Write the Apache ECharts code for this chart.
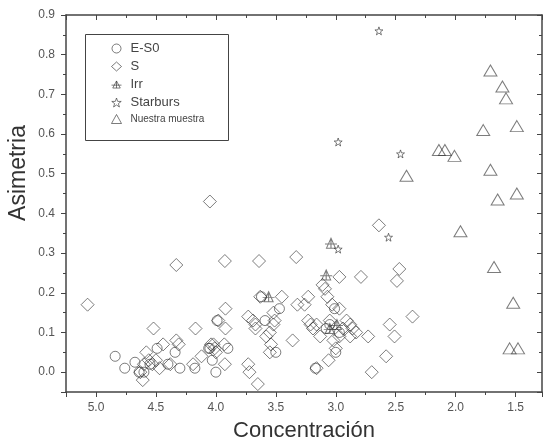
<!DOCTYPE html>
<html>
<head>
<meta charset="utf-8">
<script src="https://cdn.jsdelivr.net/npm/echarts@6/dist/echarts.min.js"></script>
<style>
  html, body { margin: 0; padding: 0; background: #fff; }
  #main { width: 546px; height: 441px; }
</style>
</head>
<body>
<div id="main"></div>
<script>
// concentracion, asimetria
var eS0 = [
    [4.84, 0.04], [4.76, 0.01], [4.64, 0.0], [4.675, 0.025], [4.55, 0.02], [4.6, 0.0],
    [4.49, 0.06], [4.40, 0.02], [4.34, 0.05], [4.30, 0.01], [4.175, 0.01], [4.06, 0.06],
    [4.0, 0.0], [3.99, 0.13], [4.03, 0.03], [4.05, 0.06], [3.9, 0.06], [3.59, 0.13],
    [3.62, 0.19], [3.50, 0.05], [3.47, 0.16], [3.17, 0.01], [3.0, 0.05], [3.05, 0.12],
    [3.01, 0.16], [2.97, 0.1], [3.08, 0.11]
];
var espirales = [
    [5.07, 0.17], [4.52, 0.11], [4.33, 0.27], [4.05, 0.43], [3.925, 0.28], [3.64, 0.28],
    [3.33, 0.29], [2.64, 0.37], [4.17, 0.11], [3.92, 0.16], [3.92, 0.11], [3.93, 0.07],
    [3.925, 0.02], [4.19, 0.02], [4.12, 0.04], [4.0, 0.05], [4.02, 0.07], [4.44, 0.07],
    [4.33, 0.08], [4.31, 0.07], [4.38, 0.02], [4.58, 0.05], [4.56, 0.03], [4.53, 0.02],
    [4.6, 0.02], [4.63, 0.0], [4.61, -0.02], [4.5, 0.03], [4.47, 0.01], [3.73, 0.02],
    [3.72, 0.0], [3.65, -0.03], [3.73, 0.14], [3.69, 0.13], [3.67, 0.12], [3.67, 0.11],
    [3.63, 0.19], [3.45, 0.19], [3.52, 0.15], [3.51, 0.13], [3.52, 0.12], [3.55, 0.1],
    [3.54, 0.07], [3.36, 0.08], [3.32, 0.17], [3.23, 0.19], [3.23, 0.13], [3.21, 0.12],
    [3.16, 0.12], [3.26, 0.17], [3.19, 0.11], [3.13, 0.09], [3.09, 0.21], [3.07, 0.19],
    [3.03, 0.17], [2.97, 0.16], [2.97, 0.24], [2.79, 0.24], [2.47, 0.26], [2.49, 0.23],
    [3.05, 0.13], [2.91, 0.13], [2.88, 0.12], [2.86, 0.11], [2.83, 0.10], [2.88, 0.09],
    [2.94, 0.11], [2.97, 0.09], [3.02, 0.08], [2.73, 0.09], [2.55, 0.12], [2.51, 0.09],
    [2.36, 0.14], [3.0, 0.06], [3.06, 0.03], [3.16, 0.01], [2.58, 0.04], [2.70, 0.0],
    [3.11, 0.22], [3.58, 0.09], [3.55, 0.05], [3.98, 0.13], [4.01, 0.06], [4.04, 0.07]
];
var irregulares = [[3.56, 0.19], [3.04, 0.325], [3.08, 0.245], [2.99, 0.12], [3.05, 0.11]];
var starburst = [[2.64, 0.86], [2.98, 0.58], [2.46, 0.55], [2.98, 0.31], [2.56, 0.34]];
var muestra = [
    [1.71, 0.76], [1.61, 0.72], [1.58, 0.69], [1.77, 0.61], [1.49, 0.62], [2.14, 0.56],
    [2.09, 0.56], [2.01, 0.545], [2.41, 0.495], [1.71, 0.51], [1.49, 0.45], [1.65, 0.435],
    [1.96, 0.355], [1.68, 0.265], [1.52, 0.175], [1.55, 0.06], [1.48, 0.06]
];
var nombres = ['E-S0', 'S', 'Irr', 'Starburs', 'Nuestra muestra'];

var starPath = 'path://M0,-10L2.35,-3.24L9.51,-3.09L3.8,1.24L5.88,8.09L0,4L-5.88,8.09L-3.8,1.24L-9.51,-3.09L-2.35,-3.24Z';
var irrPath = 'path://M0,-10L9,7L-9,7ZM-12,0L12,0M0,-10L0,7';

var hueco = { color: 'rgba(255,255,255,0)', borderColor: 'rgba(50,50,50,0.8)', borderWidth: 1 };
var gris = '#444';
var fuente = 'Liberation Sans, Arial';

var myChart = echarts.init(document.getElementById('main'));

function eje(extra) {
    var base = {
        type: 'value',
        axisLine: { show: true, onZero: false, lineStyle: { color: gris, width: 1.5 } },
        axisTick: { show: true, length: 5, lineStyle: { color: gris } },
        minorTick: { show: true, splitNumber: 2, length: 3, lineStyle: { color: gris } },
        splitLine: { show: false }
    };
    return Object.assign(base, extra);
}

myChart.setOption({
    animation: false,
    grid: { left: 66, right: 4, top: 15, bottom: 49, containLabel: false, outerBoundsMode: 'none' },
    xAxis: [
        eje({
            min: 1.28, max: 5.25, splitNumber: 8, inverse: true, position: 'bottom',
            name: 'Concentración', nameLocation: 'middle', nameGap: 28,
            nameTextStyle: { fontSize: 22, color: '#333', fontFamily: fuente },
            axisLabel: { color: '#555', fontSize: 12, fontFamily: fuente, margin: 10,
                showMinLabel: false, showMaxLabel: false,
                formatter: function (v) { return v.toFixed(1); } }
        }),
        eje({
            min: 1.28, max: 5.25, splitNumber: 8, inverse: true, position: 'top',
            axisTick: { show: true, inside: true, length: 5, lineStyle: { color: gris } },
            minorTick: { show: true, splitNumber: 2, length: 3, lineStyle: { color: gris } },
            axisLabel: { show: false }
        })
    ],
    yAxis: [
        eje({
            min: -0.05, max: 0.9, splitNumber: 10, position: 'left',
            axisLabel: { color: '#555', fontSize: 12, fontFamily: fuente, margin: 11,
                showMinLabel: false,
                formatter: function (v) { return v.toFixed(1); } }
        }),
        eje({
            min: -0.05, max: 0.9, splitNumber: 10, position: 'right',
            axisTick: { show: true, inside: true, length: 5, lineStyle: { color: gris } },
            minorTick: { show: true, splitNumber: 2, length: 3, lineStyle: { color: gris } },
            axisLabel: { show: false }
        })
    ],
    graphic: [
        {
            type: 'rect', left: 83, top: 32, z: 0,
            shape: { width: 143, height: 106 },
            style: { fill: 'none', stroke: gris, lineWidth: 1 }
        },
        {
            // titulo del eje y
            type: 'text', x: 19, y: 173, rotation: Math.PI / 2,
            style: { text: 'Asimetria', fill: '#333', font: '23px Liberation Sans, Arial',
                align: 'center', verticalAlign: 'middle' }
        }
    ],
    legend: {
        orient: 'vertical', left: 106, top: 37, itemWidth: 10, itemHeight: 9, itemGap: 5,
        itemStyle: { borderWidth: 1, borderColor: 'rgba(50,50,50,0.8)' },
        textStyle: { fontSize: 13, color: '#444', fontFamily: fuente, padding: [0, 0, 0, 4] },
        data: [
            { name: nombres[0] }, { name: nombres[1] }, { name: nombres[2] }, { name: nombres[3] },
            { name: nombres[4], textStyle: { fontSize: 10 } }
        ]
    },
    series: [
        { name: nombres[0], type: 'scatter', data: eS0, symbol: 'circle', symbolSize: 10, itemStyle: hueco },
        { name: nombres[1], type: 'scatter', data: espirales, symbol: 'diamond', symbolSize: 13, itemStyle: hueco },
        { name: nombres[2], type: 'scatter', data: irregulares, symbol: irrPath, symbolSize: [12, 10], itemStyle: hueco },
        { name: nombres[3], type: 'scatter', data: starburst, symbol: starPath, symbolSize: 8, itemStyle: hueco },
        { name: nombres[4], type: 'scatter', data: muestra, symbol: 'triangle', symbolSize: [13, 11], itemStyle: hueco }
    ]
});
</script>
</body>
</html>
